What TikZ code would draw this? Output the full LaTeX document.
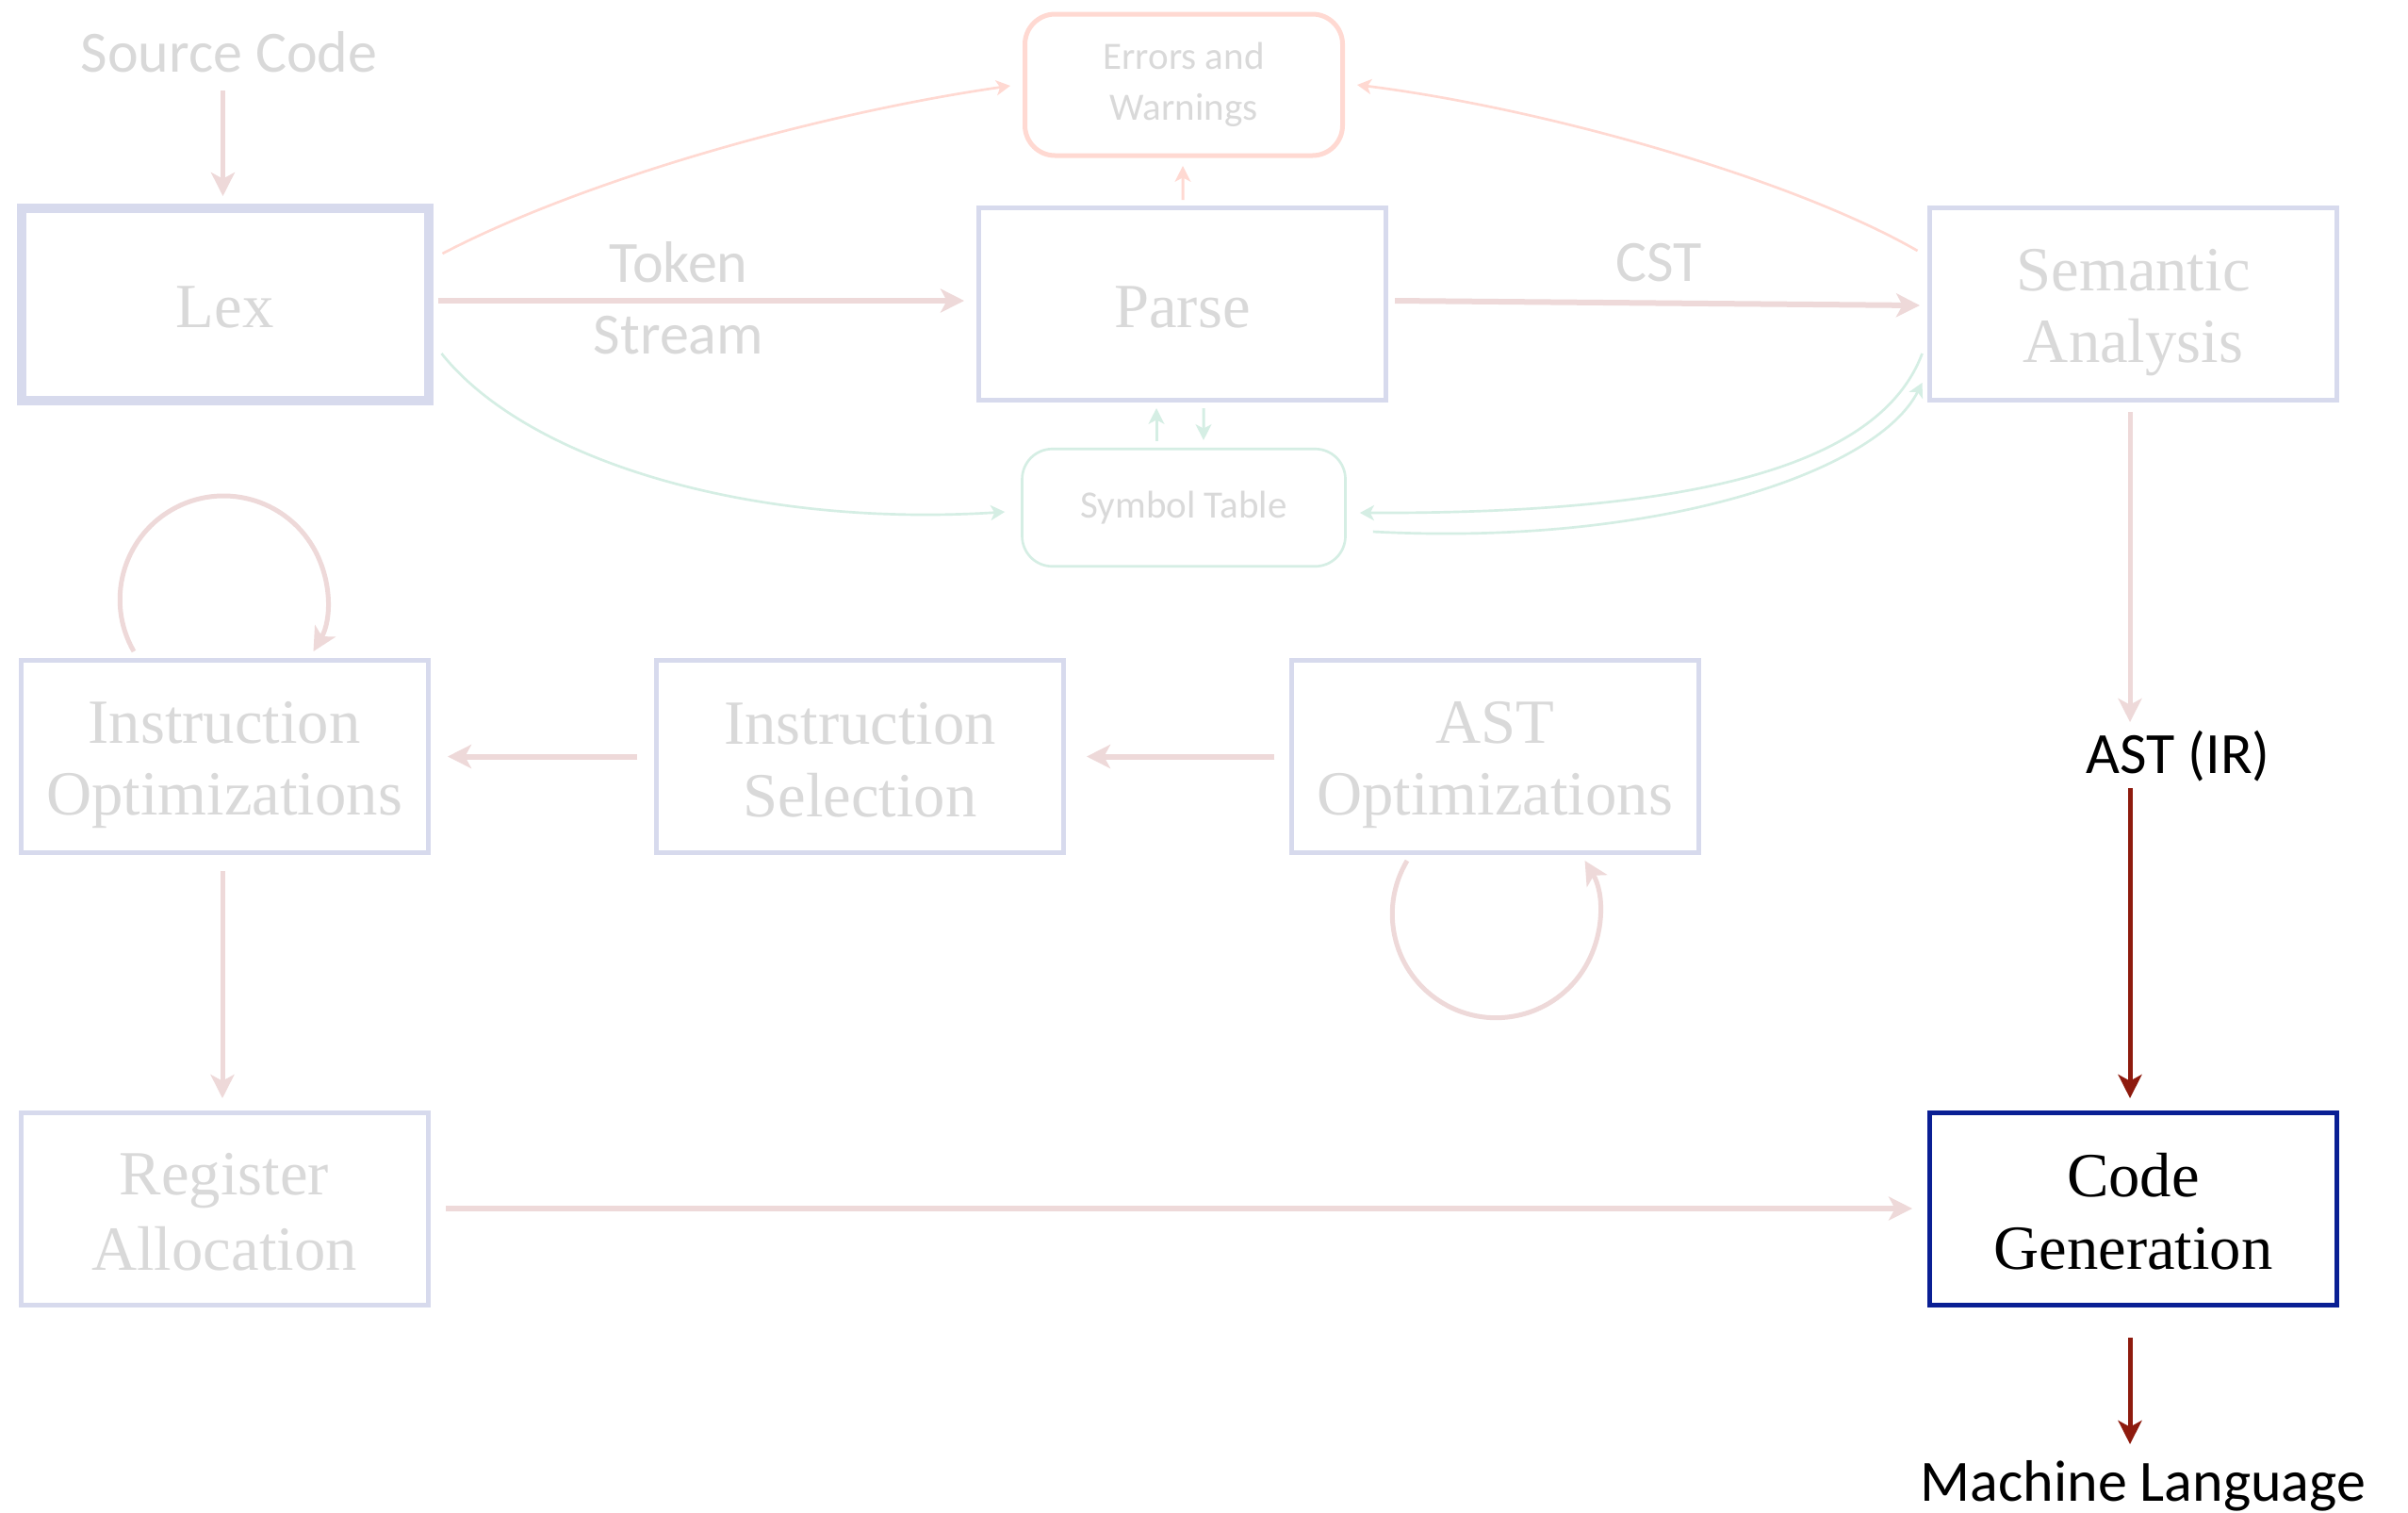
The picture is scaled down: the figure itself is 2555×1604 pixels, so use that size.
\documentclass[tikz,border=0pt]{standalone}
\usepackage{fontspec}
\setmainfont{Liberation Serif}
\newfontfamily\calib{Carlito}
\usetikzlibrary{arrows.meta,calc}

\definecolor{boxc}{HTML}{D7DAED}
\definecolor{arrc}{HTML}{EED9D9}
\definecolor{errc}{HTML}{FFD9D2}
\definecolor{symc}{HTML}{D5EEE4}
\definecolor{fadet}{HTML}{D9D9D9}
\definecolor{darkred}{HTML}{8E1B0E}
\definecolor{cgblue}{HTML}{0A1F94}

% uniform line strut so stage labels sit by their lines, not their ink
\newcommand\stagestrut{\rule[-3.5pt]{0pt}{22.2pt}}

\begin{document}
\begin{tikzpicture}[x=0.3pt,y=0.3pt,
  stage/.style={draw=boxc,line width=1.5pt,minimum width=129.6pt,minimum height=61.2pt,
    inner sep=0pt,align=center,text=fadet,font=\fontsize{20}{23}\selectfont},
  lbl/.style={inner sep=0pt,align=center,text=fadet,font=\calib\fontsize{18.6}{22.8}\selectfont},
  side/.style={rounded corners=9.6pt,minimum width=101.1pt,inner sep=0pt,align=center,
    text=fadet,font=\calib\fontsize{12.3}{16.2}\selectfont},
  bigtip/.style={-{Stealth[length=7.5pt,width=7.5pt,inset=2pt]}},
  flow/.style={draw=arrc,line width=1.5pt,bigtip},
  wide/.style={draw=arrc,line width=1.8pt,bigtip},
  dark/.style={draw=darkred,line width=1.5pt,bigtip},
  tiny/.style={line width=0.9pt,-{Stealth[length=5pt,width=5pt,inset=1.3pt]}},
  arcline/.style={line width=0.8pt,-{Stealth[length=4.5pt,width=4.8pt,inset=1.2pt]}}
]
\fill[white] (0,0) rectangle (2555,-1604);
\useasboundingbox (0,0) rectangle (2555,-1604);

% compiler stages
\node[stage,line width=3pt] (lex) at (238.5,-322.5) {\stagestrut Lex};
\node[stage] (parse) at (1254.5,-322.5) {\stagestrut Parse};
\node[stage] (sem) at (2263.5,-322.5) {\stagestrut Semantic\\\stagestrut Analysis};
\node[stage] (io) at (238,-802.5) {\stagestrut Instruction\\\stagestrut Optimizations};
\node[stage] (is) at (912.5,-802.5) {\stagestrut Instruction\\\stagestrut Selection};
\node[stage] (aso) at (1586,-802.5) {\stagestrut AST\\\stagestrut Optimizations};
\node[stage] (ra) at (238,-1282.5) {\stagestrut Register\\\stagestrut Allocation};
\node[stage,draw=cgblue,text=black] (cg) at (2263.5,-1282.5) {\stagestrut Code\\\stagestrut Generation};

% shared side structures
\node[side,draw=errc,line width=1.5pt,minimum height=45pt] (err) at (1256,-90) {Errors and\\Warnings};
\node[side,draw=symc,line width=0.8pt,minimum height=37.35pt,minimum width=102.9pt] (sym) at (1256,-538.5) {Symbol Table};

% labels
\node[lbl] (src) at (243,-55) {Source Code};
\node[lbl] (tok) at (720,-316) {Token\\Stream};
\node[lbl] (cst) at (1760,-279) {CST};
\node[lbl,text=black] (ast) at (2311,-802) {AST (IR)};
\node[lbl,text=black] (ml) at (2274,-1576) {Machine Language};

% front end
\draw[flow] ($(lex.north)+(-2,119.5)$) -- ($(lex.north)+(-2,7.5)$);
\draw[wide] ($(lex.east)+(5,3.5)$) -- ($(parse.west)+(-13,3.5)$);
\draw[wide] ($(parse.east)+(7,3.5)$) -- ($(sem.west)+(-8,-1.5)$);
\draw[flow] ($(sem.south)+(-3.5,-10)$) -- ($(sem.south)+(-3.5,-339)$);

% back end
\draw[dark] ($(cg.north)+(-3.5,342)$) -- ($(cg.north)+(-3.5,13)$);
\draw[dark] ($(cg.south)+(-3.5,-32)$) -- ($(cg.south)+(-3.5,-145)$);
\draw[wide] ($(aso.west)+(-15.5,0)$) -- ($(is.east)+(22,0)$);
\draw[wide] ($(is.west)+(-18,0)$) -- ($(io.east)+(18.5,0)$);
\draw[flow] ($(io.south)+(-2,-17)$) -- ($(ra.north)+(-2,13)$);
\draw[wide] ($(ra.east)+(16.5,0.5)$) -- ($(cg.west)+(-16,0.5)$);

% optimisation loops
\draw[flow] ($(io.north)+(-96,7)$) arc[start angle=210,end angle=-30,radius=33pt];
\draw[flow] ($(aso.south)+(-93,-6)$) arc[start angle=149,end angle=391,radius=33pt];

% error reporting
\draw[tiny,draw=errc] ($(parse.north)+(0.5,6)$) -- ($(err.south)+(-1,-8.5)$);
\draw[arcline,draw=errc] ($(lex.east)+(10,53.5)$) .. controls +(151,79) and +(-202,-29) .. ($(err.west)+(-13,-1)$);
\draw[arcline,draw=errc] ($(sem.west)+(-10.5,56.5)$) .. controls +(-132,76) and +(200,-25) .. ($(err.east)+(13,0)$);

% symbol table access
\draw[tiny,draw=symc] ($(sym.north)+(-29,7)$) -- ($(parse.south)+(-27.5,-6)$);
\draw[tiny,draw=symc] ($(parse.south)+(22.5,-6)$) -- ($(sym.north)+(21,8)$);
\draw[arcline,draw=symc] ($(lex.east)+(9,-52.5)$) .. controls +(92,-115) and +(-267,-17) .. ($(sym.west)+(-17,-4.5)$);
\draw[arcline,draw=symc] ($(sem.west)+(-5.5,-52.5)$) .. controls +(-47,-125) and +(338,-1) .. ($(sym.east)+(14,-5.5)$);
\draw[arcline,draw=symc] ($(sym.east)+(28,-25.5)$) .. controls +(304,-16) and +(-47,-94) .. ($(sem.west)+(-5.5,-83.5)$);
\end{tikzpicture}
\end{document}
